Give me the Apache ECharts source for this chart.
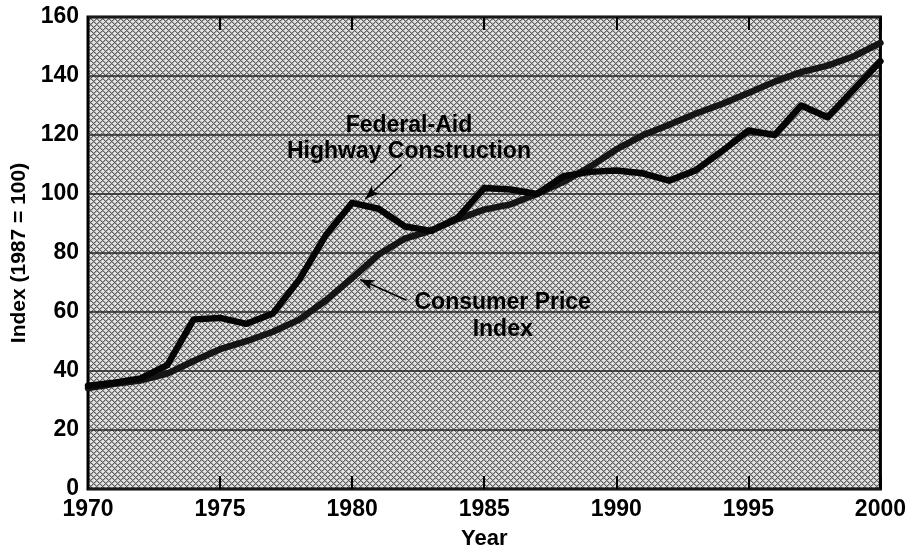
<!DOCTYPE html>
<html>
<head>
<meta charset="utf-8">
<script src="https://cdn.jsdelivr.net/npm/echarts@6/dist/echarts.min.js"></script>
<style>
  html, body { margin: 0; padding: 0; background: #fff; }
  #chart { width: 909px; height: 555px; }
</style>
</head>
<body>
<div id="chart"></div>
<script>
// Price indexes, 1987 = 100
const years = [1970, 1971, 1972, 1973, 1974, 1975, 1976, 1977, 1978, 1979,
               1980, 1981, 1982, 1983, 1984, 1985, 1986, 1987, 1988, 1989,
               1990, 1991, 1992, 1993, 1994, 1995, 1996, 1997, 1998, 1999, 2000];
const highwayConstruction = [35, 36, 37.5, 42, 57.5, 58, 56, 59.5, 71, 86,
                             97, 95, 89, 87.5, 92, 102, 101.5, 100, 106, 107.5,
                             108, 107, 104.5, 108, 114.5, 121.5, 120, 130, 126, 135.5, 145];
const consumerPrice = [34.2, 35.7, 36.8, 39.1, 43.4, 47.4, 50.1, 53.3, 57.4, 63.9,
                       71.5, 79.5, 84.9, 87.7, 91.5, 94.7, 96.5, 100, 104.1, 109.2,
                       115.1, 119.9, 123.5, 127.2, 130.5, 134.2, 138.1, 141.3, 143.5, 146.7, 151.2];
const yTicks = [0, 20, 40, 60, 80, 100, 120, 140, 160];
const xTicks = [1970, 1975, 1980, 1985, 1990, 1995, 2000];

const FONT = '"Liberation Sans", Arial, Helvetica, sans-serif';

// Cross-hatched halftone fill for the plotting area
function hatchTile() {
  const n = 12;
  const c = document.createElement('canvas');
  c.width = n; c.height = n;
  const ctx = c.getContext('2d');
  ctx.fillStyle = '#e2e2e2';
  ctx.fillRect(0, 0, n, n);
  for (let x = 0; x < n; x++) {
    for (let y = 0; y < n; y++) {
      const a = (x + y) % 6, b = (x - y + n) % 6;
      if (a === 0 || b === 0) {
        ctx.fillStyle = '#5e5e5e';
        ctx.fillRect(x, y, 1, 1);
      } else if (a === 1 || b === 1) {
        ctx.fillStyle = '#a8a8a8';
        ctx.fillRect(x, y, 1, 1);
      }
    }
  }
  return c;
}

const pairs = vals => years.map((yr, i) => [yr, vals[i]]);

const chart = echarts.init(document.getElementById('chart'), null, { renderer: 'canvas' });

const axisLabelStyle = { color: '#000', fontFamily: FONT, fontWeight: 'bold', fontSize: 23 };

chart.setOption({
  animation: false,
  backgroundColor: '#fff',
  grid: {
    left: 88, right: 20, top: 17, bottom: 63,
    show: true,
    backgroundColor: { image: hatchTile(), repeat: 'repeat' },
    borderColor: '#000',
    borderWidth: 3
  },
  xAxis: [{
    type: 'value',
    min: xTicks[0], max: xTicks[xTicks.length - 1], interval: 5,
    name: 'Year', nameLocation: 'middle', nameGap: 39,
    nameTextStyle: Object.assign({}, axisLabelStyle, { fontSize: 22 }),
    axisLine: { show: false },
    axisTick: { show: true, inside: true, length: 13, lineStyle: { color: '#000', width: 2 } },
    axisLabel: Object.assign({ margin: 9, formatter: v => String(v) }, axisLabelStyle),
    splitLine: { show: false }
  }, {
    type: 'value', position: 'top',
    min: xTicks[0], max: xTicks[xTicks.length - 1], interval: 5,
    axisLine: { show: false },
    axisTick: { show: true, inside: true, length: 13, lineStyle: { color: '#000', width: 2 } },
    axisLabel: { show: false },
    splitLine: { show: false }
  }],
  yAxis: {
    type: 'value',
    min: yTicks[0], max: yTicks[yTicks.length - 1], interval: 20,
    name: 'Index (1987 = 100)', nameLocation: 'middle', nameGap: 58,
    nameTextStyle: Object.assign({}, axisLabelStyle, { fontSize: 21 }),
    axisLine: { show: false },
    axisTick: { show: false },
    axisLabel: Object.assign({ margin: 9 }, axisLabelStyle),
    splitLine: { show: true, lineStyle: { color: '#222', width: 1.5 } }
  },
  series: [{
    name: 'Federal-Aid Highway Construction',
    type: 'line',
    data: pairs(highwayConstruction),
    showSymbol: false,
    lineStyle: { color: '#050505', width: 6.5, join: 'round', cap: 'round' },
    z: 3,
    markLine: {
      silent: true, animation: false,
      symbol: ['none', 'arrow'], symbolSize: [8, 14],
      label: { show: false },
      lineStyle: { color: '#000', width: 1.5, type: 'solid' },
      data: [[{ coord: [1981.87, 110] }, { coord: [1980.5, 98.3] }]]
    }
  }, {
    name: 'Consumer Price Index',
    type: 'line',
    data: pairs(consumerPrice),
    showSymbol: false,
    lineStyle: { color: '#151515', width: 6.5, join: 'round', cap: 'round' },
    z: 2,
    markLine: {
      silent: true, animation: false,
      symbol: ['none', 'arrow'], symbolSize: [8, 14],
      label: { show: false },
      lineStyle: { color: '#000', width: 1.5, type: 'solid' },
      data: [[{ coord: [1982.06, 64] }, { coord: [1980.3, 71] }]]
    }
  }]
});

// Series annotations, anchored in data coordinates
const notes = [
  { at: [1982.15, 123.2], text: 'Federal-Aid' },
  { at: [1982.15, 114.3], text: 'Highway Construction' },
  { at: [1985.7, 63.2], text: 'Consumer Price' },
  { at: [1985.7, 54.1], text: 'Index' }
];
chart.setOption({
  graphic: notes.map(n => {
    const p = chart.convertToPixel({ gridIndex: 0 }, n.at);
    return {
      type: 'text', x: p[0], y: p[1], z: 10,
      style: {
        text: n.text, fill: '#000', align: 'center', verticalAlign: 'middle',
        font: 'bold 23px ' + FONT
      }
    };
  })
});
</script>
</body>
</html>
